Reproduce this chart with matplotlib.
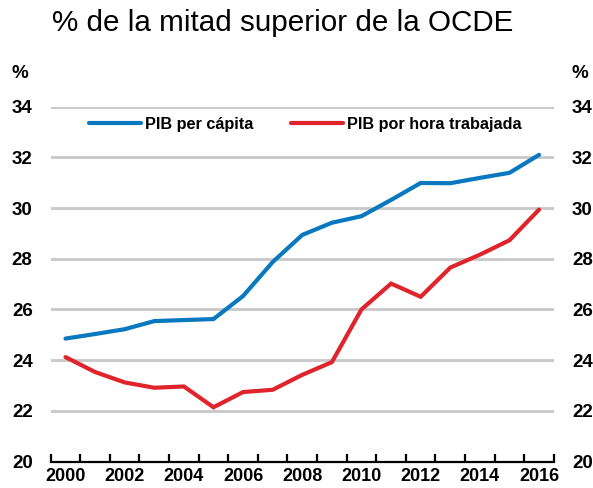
import matplotlib
matplotlib.use("Agg")
import matplotlib.pyplot as plt
import numpy as np

plt.rcParams['font.family'] = ['Liberation Sans', 'DejaVu Sans']

# data
years = list(range(2000, 2017))
pib_per_capita = [24.85, 25.03, 25.22, 25.54, 25.58, 25.62, 26.53, 27.87, 28.94,
                  29.42, 29.68, 30.32, 30.99, 30.98, 31.19, 31.39, 32.10]
pib_por_hora = [24.12, 23.53, 23.12, 22.91, 22.96, 22.14, 22.74, 22.83, 23.42,
                23.92, 26.00, 27.02, 26.50, 27.65, 28.16, 28.73, 29.94]
y_ticks = [20, 22, 24, 26, 28, 30, 32, 34]

blue = '#0a78be'
red = '#e0242b'

fig = plt.figure(figsize=(5.93, 4.88), dpi=100)
ax = fig.add_axes([0.0855, 0.0543, 0.8485, 0.7271])

x = np.arange(len(years))
ax.plot(x, pib_per_capita, color=blue, lw=3.0, label='PIB per cápita',
        solid_capstyle='round', solid_joinstyle='miter', zorder=3)
ax.plot(x, pib_por_hora, color=red, lw=3.0, label='PIB por hora trabajada',
        solid_capstyle='round', solid_joinstyle='miter', zorder=3)

ax.set_xlim(-0.5, len(years) - 0.5)
ax.set_ylim(20, 34)

# gridlines
for v in y_ticks[1:]:
    ax.axhline(v, color='#c8c8c8', lw=2.0, zorder=1)

for s in ['left', 'right', 'top']:
    ax.spines[s].set_visible(False)
ax.spines['bottom'].set_linewidth(1.6)
ax.spines['bottom'].set_color('black')

# x ticks: marks at category edges, labels at centers
ax.set_xticks(np.arange(-0.5, len(years), 1.0))
ax.set_xticklabels([])
ax.tick_params(axis='x', which='major', direction='in', length=6, width=1.6, color='black')
ax.set_xticks(x[::2], minor=True)
ax.set_xticklabels([str(y) for y in years[::2]], minor=True, fontweight='bold')
ax.tick_params(axis='x', which='minor', length=0, pad=5, labelsize=13)

# y labels on both sides, no marks
ax.set_yticks(y_ticks)
ax.set_yticklabels([str(v) for v in y_ticks])
ax.tick_params(axis='y', length=0, pad=13, labelsize=13.5,
               left=True, right=True, labelleft=True, labelright=True)
for tick in ax.yaxis.get_major_ticks():
    tick.label1.set_fontweight('bold')
    tick.label2.set_fontweight('bold')

fig.text(20 / 593, 1 - 74 / 488, '%', ha='center', va='center', fontsize=13.5, fontweight='bold')
fig.text(580 / 593, 1 - 74 / 488, '%', ha='center', va='center', fontsize=13.5, fontweight='bold')

fig.text(283 / 593, 1 - 23 / 488, '% de la mitad superior de la OCDE',
         ha='center', va='center', fontsize=21.3)

ax.legend(loc='center', bbox_to_anchor=(0.506, 0.951), ncol=2, frameon=False,
          handlelength=3.2, handletextpad=0.25, columnspacing=2.3,
          prop={'size': 11.7, 'weight': 'bold'})

fig.savefig('out.png', dpi=100)
